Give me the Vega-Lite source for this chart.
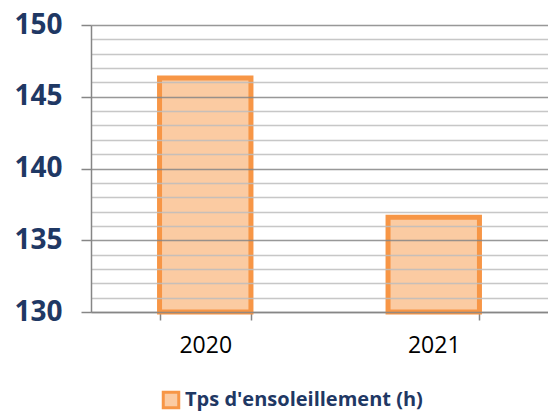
{
  "$schema": "https://vega.github.io/schema/vega-lite/v6.json",
  "autosize": "none",
  "width": 457,
  "height": 287,
  "padding": {"left": 91, "top": 25, "right": 0, "bottom": 99},
  "background": "white",
  "config": {"view": {"stroke": null}, "font": "Open Sans"},
  "data": {
    "values": [
      {"year": "2020", "value": 146.3, "series": "Tps d'ensoleillement (h)"},
      {"year": "2021", "value": 136.6, "series": "Tps d'ensoleillement (h)"}
    ]
  },
  "mark": {"type": "bar", "strokeWidth": 5},
  "encoding": {
    "x": {
      "field": "year",
      "type": "nominal",
      "scale": {"paddingInner": 0.6, "paddingOuter": 0.3},
      "axis": {
        "title": null,
        "labelAngle": 0,
        "labelFontSize": 23,
        "labelColor": "#000000",
        "labelPadding": 14,
        "domainColor": "#868686",
        "domainWidth": 1.5,
        "tickColor": "#868686",
        "tickWidth": 1.5,
        "tickBand": "extent",
        "tickSize": 8,
        "grid": false
      }
    },
    "y": {
      "field": "value",
      "type": "quantitative",
      "scale": {"domain": [130, 150], "nice": false, "zero": false},
      "axis": {
        "title": null,
        "values": [130,131,132,133,134,135,136,137,138,139,140,141,142,143,144,145,146,147,148,149,150],
        "labelExpr": "datum.value % 5 === 0 ? datum.label : ''",
        "labelFontSize": 28,
        "labelFontWeight": "bold",
        "labelColor": "#1F3864",
        "labelPadding": 19,
        "grid": true,
        "gridColor": {"condition": {"test": "datum.value % 5 === 0", "value": "#868686"}, "value": "#BDBDBD"},
        "gridWidth": 1.5,
        "gridOpacity": 0.85,
        "tickOpacity": {"condition": {"test": "datum.value % 5 === 0", "value": 1}, "value": 0},
        "tickSize": 10,
        "tickColor": "#868686",
        "tickWidth": 1.5,
        "domainColor": "#868686",
        "domainWidth": 1.5,
        "zindex": 1
      }
    },
    "y2": {"datum": 130},
    "fill": {
      "field": "series",
      "type": "nominal",
      "scale": {"range": ["#FBCBA2"]},
      "legend": {
        "title": null,
        "orient": "none",
        "legendX": 70,
        "legendY": 365,
        "padding": 0,
        "labelLimit": 400,
        "labelOffset": 4,
        "labelFontSize": 20,
        "labelFontWeight": "bold",
        "labelColor": "#1F3864",
        "symbolType": "square",
        "symbolSize": 240,
        "symbolStrokeWidth": 3
      }
    },
    "stroke": {
      "field": "series",
      "type": "nominal",
      "scale": {"range": ["#F79646"]}
    }
  }
}
